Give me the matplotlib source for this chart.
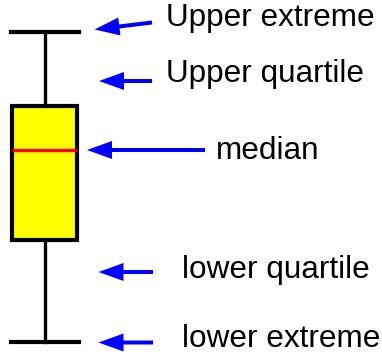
import matplotlib
matplotlib.use("Agg")
import matplotlib.pyplot as plt

# Box statistics (in value units; value = 357 - pixel row)
stats = [dict(whislo=15, q1=117, med=207, q3=251, whishi=325, fliers=[], label="")]

labels = ["Upper extreme", "Upper quartile", "median", "lower quartile", "lower extreme"]

W, H = 382, 357
fig = plt.figure(figsize=(W / 100, H / 100), dpi=100)
ax = fig.add_axes([0, 0, 1, 1])
ax.set_xlim(0, W)
ax.set_ylim(0, H)
ax.axis("off")

ax.bxp(stats, positions=[44.5], widths=65, patch_artist=True, showfliers=False,
       boxprops=dict(facecolor="#ffff00", edgecolor="black", linewidth=3),
       whiskerprops=dict(color="black", linewidth=2.4),
       capprops=dict(color="black", linewidth=3),
       medianprops=dict(color="red", linewidth=2.4),
       capwidths=68)

# arrows: (tail_x, tail_y, tip_x, tip_y) in pixel rows from top
arrows = [(152, 22.5, 94.5, 29.5), (152, 81, 99, 81), (205, 150, 87, 150),
          (153, 272, 98.5, 272), (153, 342.5, 98.5, 342.5)]
for tx, ty, hx, hy in arrows:
    ax.arrow(tx, H - ty, hx - tx, -(hy - ty), width=4, head_width=18, head_length=25,
             length_includes_head=True, color="#0000ff", linewidth=0)

text_pos = [(166, 26), (166, 82), (216, 159), (182, 278), (182, 347)]
for (x, y), lab in zip(text_pos, labels):
    ax.text(x, H - y, lab, fontsize=22.7, family="Liberation Sans", color="black",
            ha="left", va="baseline")

fig.savefig("out.png", dpi=100)
